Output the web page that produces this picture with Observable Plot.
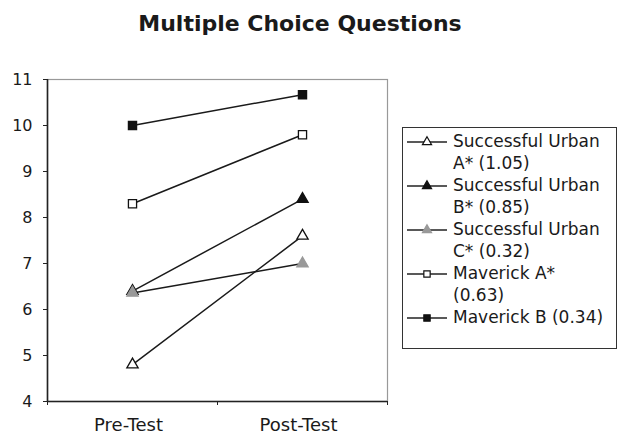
<!DOCTYPE html>
<html>
<head>
<meta charset="utf-8">
<script src="https://cdn.jsdelivr.net/npm/d3@7"></script>
<script src="https://cdn.jsdelivr.net/npm/@observablehq/plot@0.6"></script>
<style>
  html, body { margin: 0; padding: 0; background: #fff; }
  #wrap { position: relative; width: 620px; height: 434px; font-family: "DejaVu Sans", Verdana, sans-serif; color: #1a1a1a; }
  #title { position: absolute; left: 0; width: 600px; top: 11px; text-align: center; font-weight: bold; font-size: 22px; }
  #legend { position: absolute; left: 402px; top: 127px; width: 213px; height: 220px; border: 1.5px solid #333; box-sizing: content-box; }
  .entry { display: flex; align-items: flex-start; margin-left: 4px; }
  .entry svg { flex: none; margin-top: 3px; }
  .entry span { margin-left: 6px; font-size: 17px; line-height: 21.5px; max-width: 158px; }
</style>
</head>
<body>
<div id="wrap">
  <div id="chart"></div>
  <div id="title">Multiple Choice Questions</div>
  <div id="legend"></div>
</div>
<script>
const categories = ["Pre-Test", "Post-Test"];
const seriesNames = ["Successful Urban A* (1.05)", "Successful Urban B* (0.85)", "Successful Urban C* (0.32)", "Maverick A* (0.63)", "Maverick B (0.34)"];
const preTest = [4.8, 6.4, 6.36, 8.3, 10.0];
const postTest = [7.6, 8.4, 7.0, 9.8, 10.67];
const yTicks = [4, 5, 6, 7, 8, 9, 10, 11];

const styles = {
  "Successful Urban A* (1.05)": {symbol: "triangle", fill: "#fff", stroke: "#111"},
  "Successful Urban B* (0.85)": {symbol: "triangle", fill: "#111", stroke: "#111"},
  "Successful Urban C* (0.32)": {symbol: "triangle", fill: "#999", stroke: "#999"},
  "Maverick A* (0.63)": {symbol: "square", fill: "#fff", stroke: "#111"},
  "Maverick B (0.34)": {symbol: "square", fill: "#111", stroke: "#111"}
};

const rows = [];
seriesNames.forEach((s, i) => {
  rows.push({series: s, cat: 0, y: preTest[i]});
  rows.push({series: s, cat: 1, y: postTest[i]});
});
const tri = rows.filter(d => styles[d.series].symbol === "triangle");
const sq = rows.filter(d => styles[d.series].symbol === "square");

const chart = Plot.plot({
  width: 620,
  height: 434,
  marginLeft: 47,
  marginRight: 233,
  marginTop: 79,
  marginBottom: 33,
  style: {fontFamily: "DejaVu Sans, Verdana, sans-serif", fontSize: "16px", color: "#1a1a1a", background: "transparent"},
  x: {type: "linear", domain: [0, categories.length], axis: null},
  y: {domain: [4, 11], axis: null},
  marks: [
    Plot.frame({stroke: "#999", strokeWidth: 1.2}),
    Plot.ruleX([0], {stroke: "#222", strokeWidth: 1.6}),
    Plot.ruleY([4], {stroke: "#222", strokeWidth: 1.6}),
    Plot.axisY({ticks: yTicks, tickSize: 4, tickPadding: 11, fontSize: 16, stroke: "#222", label: null, tickFormat: d => String(d)}),
    Plot.axisX({ticks: d3.range(categories.length + 1), tickSize: 4, tickFormat: () => "", stroke: "#222", label: null}),
    Plot.axisX({ticks: categories.map((c, i) => i + 0.5), tickSize: 0, tickPadding: 17, fontSize: 18, dx: -4, label: null, tickFormat: v => categories[Math.round(v - 0.5)]}),
    Plot.line(rows, {x: d => d.cat + 0.5, y: "y", z: "series", stroke: "#1a1a1a", strokeWidth: 1.5}),
    Plot.dot(tri, {x: d => d.cat + 0.5, y: "y", symbol: "triangle", r: 4.2, fill: d => styles[d.series].fill, stroke: d => styles[d.series].stroke, strokeWidth: 1.3}),
    Plot.dot(sq, {x: d => d.cat + 0.5, y: "y", symbol: "square", r: 4.6, fill: d => styles[d.series].fill, stroke: d => styles[d.series].stroke, strokeWidth: 1.3})
  ]
});
document.getElementById("chart").appendChild(chart);

// legend
const legend = document.getElementById("legend");
const swatchW = 40, swatchH = 16;
seriesNames.forEach((s, i) => {
  const st = styles[s];
  const div = document.createElement("div");
  div.className = "entry";
  div.style.marginTop = i === 0 ? "3px" : "1px";
  const sym = st.symbol === "triangle" ? d3.symbolTriangle : d3.symbolSquare;
  const size = st.symbol === "triangle" ? 36 : 40;
  const path = d3.symbol(sym, size)();
  div.innerHTML = `<svg width="${swatchW}" height="${swatchH}"><line x1="0" x2="${swatchW}" y1="${swatchH/2}" y2="${swatchH/2}" stroke="#222" stroke-width="1.5"/><path d="${path}" transform="translate(${swatchW/2},${swatchH/2})" fill="${st.fill}" stroke="${st.stroke}" stroke-width="1.2"/></svg>`;
  const span = document.createElement("span");
  span.textContent = s;
  div.appendChild(span);
  legend.appendChild(div);
});
</script>
</body>
</html>
